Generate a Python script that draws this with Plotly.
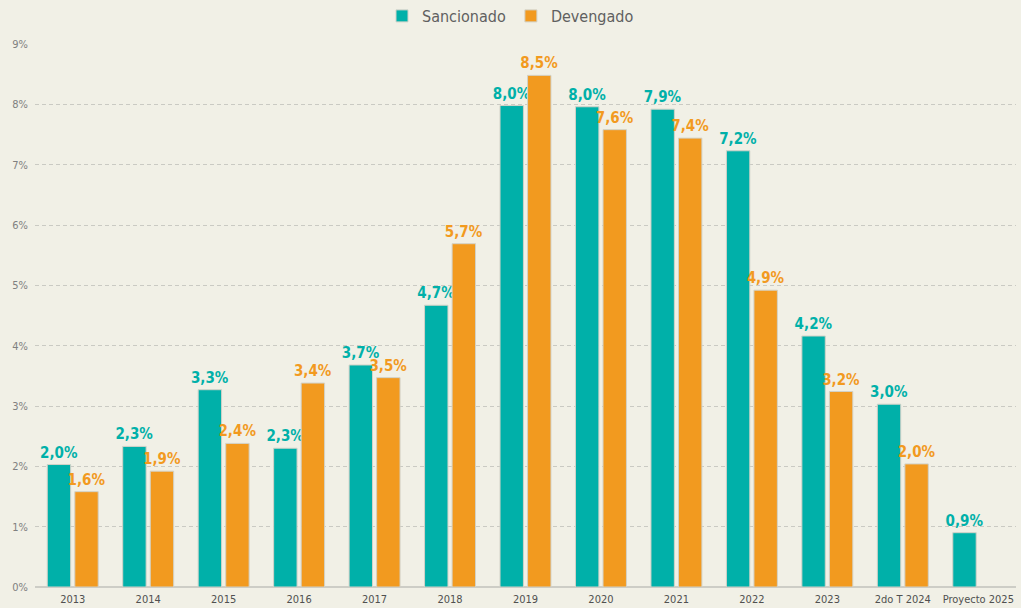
import plotly.graph_objects as go

categories = ["2013", "2014", "2015", "2016", "2017", "2018", "2019", "2020",
              "2021", "2022", "2023", "2do T 2024", "Proyecto 2025"]
sancionado = [2.03, 2.33, 3.27, 2.30, 3.68, 4.67, 7.98, 7.96, 7.92, 7.23, 4.16, 3.03, 0.90]
devengado = [1.58, 1.92, 2.38, 3.38, 3.47, 5.69, 8.48, 7.58, 7.44, 4.92, 3.24, 2.04, None]
y_ticks = [0, 1, 2, 3, 4, 5, 6, 7, 8, 9]
y_tick_labels = [f"{v}%" for v in y_ticks]

TEAL = "#00B0A9"
ORANGE = "#F29A1F"
BG = "#F1F0E6"
FONT = "DejaVu Sans Condensed, Liberation Sans Narrow, Arial Narrow, sans-serif"

fig = go.Figure()
for name, vals, col in [("Sancionado", sancionado, TEAL), ("Devengado", devengado, ORANGE)]:
    fig.add_trace(go.Bar(
        x=categories, y=vals, name=name,
        marker=dict(color=col, line=dict(color="#D2D2C8", width=1)),
        texttemplate="%{y:.1f}%", textposition="outside",
        textfont=dict(color=col, size=15, family=FONT, weight="bold"),
        cliponaxis=False, constraintext="none",
    ))

fig.update_layout(
    width=1021, height=608,
    paper_bgcolor=BG, plot_bgcolor=BG,
    separators=",.",
    barmode="group", bargap=0.27, bargroupgap=0.15,
    margin=dict(l=35, r=5, t=44, b=21, autoexpand=False),
    font=dict(family=FONT, color="#707070"),
    legend=dict(orientation="h", xref="container", x=0.5, xanchor="center",
                yref="container", y=1 - 16 / 608, yanchor="middle",
                font=dict(size=16, color="#606060", family=FONT),
                itemwidth=30, tracegroupgap=0),
    showlegend=True,
)
fig.update_yaxes(range=[0, 9], tickmode="array", tickvals=y_ticks, ticktext=y_tick_labels,
                 showgrid=True, gridcolor="#CACAC3", griddash="4px,3px", gridwidth=1,
                 zeroline=True, zerolinecolor="#CDCDC6", zerolinewidth=2,
                 tickfont=dict(size=11, color="#808080", family=FONT), ticks="",
                 ticklabelstandoff=6)
fig.update_xaxes(showgrid=False, tickfont=dict(size=11, color="#505050", family=FONT),
                 ticks="", showline=False, ticklabelstandoff=4)

fig.write_html("out.html", config={"displayModeBar": False},
               post_script="document.body.style.margin='0';")
